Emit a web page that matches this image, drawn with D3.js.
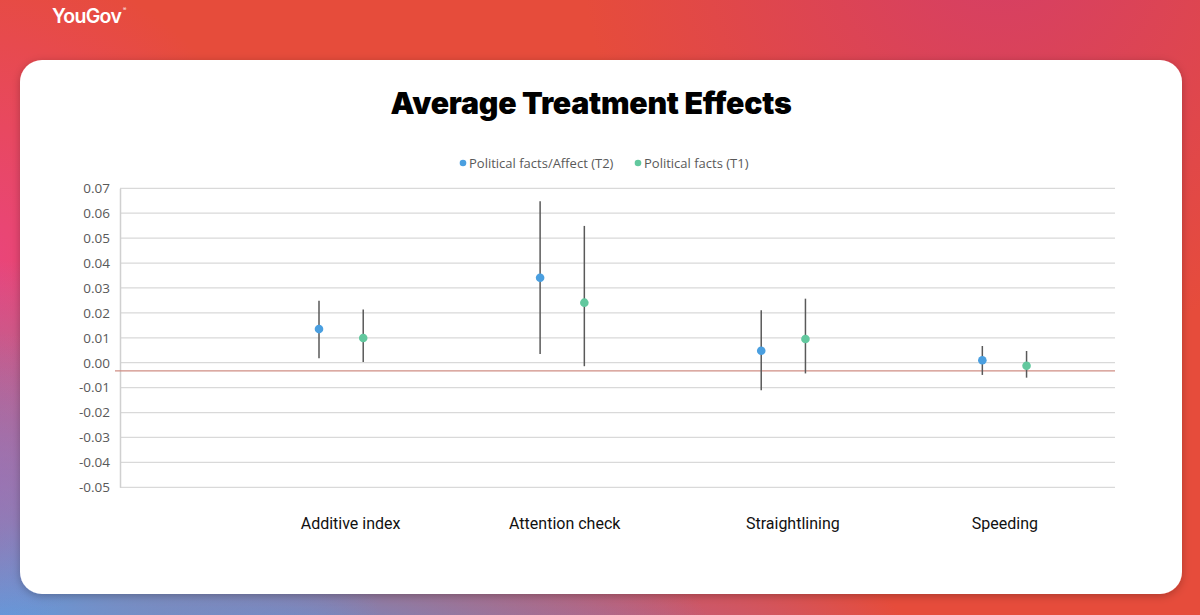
<!DOCTYPE html>
<html><head><meta charset="utf-8">
<script src="https://cdn.jsdelivr.net/npm/d3@7"></script>
<style>html,body{margin:0;padding:0;overflow:hidden;background:#fff}</style>
</head><body>
<svg id="c" width="1200" height="615"></svg>
<script>
// ---- data ----
const categories = ["Additive index", "Attention check", "Straightlining", "Speeding"];
const seriesNames = ["Political facts/Affect (T2)", "Political facts (T1)"];
const t2Values = [0.0135, 0.0341, 0.0048, 0.0010];
const t2Upper  = [0.0249, 0.0648, 0.0211, 0.0067];
const t2Lower  = [0.0018, 0.0035, -0.0110, -0.0049];
const t1Values = [0.0099, 0.0241, 0.0095, -0.0012];
const t1Upper  = [0.0214, 0.0549, 0.0257, 0.0047];
const t1Lower  = [0.0003, -0.0014, -0.0043, -0.0060];
const yTicks = [0.07, 0.06, 0.05, 0.04, 0.03, 0.02, 0.01, 0.00, -0.01, -0.02, -0.03, -0.04, -0.05];
const referenceLine = -0.0033;

const svg = d3.select("#c");
const defs = svg.append("defs");

// ---- background gradient ----
svg.append("rect").attr("width",1200).attr("height",615).attr("fill","#e64c3b");
function radial(id, cx, cy, r, color, op, sy){
  const g = defs.append("radialGradient").attr("id",id).attr("gradientUnits","userSpaceOnUse")
    .attr("cx",cx).attr("cy",cy).attr("r",r);
  if (sy) g.attr("gradientTransform",`translate(0,${cy}) scale(1,${sy}) translate(0,${-cy})`);
  g.append("stop").attr("offset","0").attr("stop-color",color).attr("stop-opacity",op);
  g.append("stop").attr("offset","1").attr("stop-color",color).attr("stop-opacity",0);
  svg.append("rect").attr("width",1200).attr("height",615).attr("fill",`url(#${id})`);
}
radial("g1", 1000, -60, 420, "#d23c6e", 0.85);
radial("g2", -40, 280, 330, "#ea4486", 0.95);
radial("g5", 640, 700, 300, "#a46ab0", 0.85, 0.6);
radial("g4", 300, 660, 420, "#5f95de", 1, 0.45);
radial("g3", 0, 640, 380, "#5e9de2", 1);
radial("g6", -20, 480, 150, "#9c6fbc", 0.6);

// logo
svg.append("text").attr("x",52).attr("y",23)
  .attr("font-family","Inter, 'Open Sans', sans-serif").attr("font-weight",600)
  .attr("font-size",19.5).attr("fill","#fff").attr("letter-spacing","-0.7")
  .text("YouGov");
svg.append("text").attr("x",123).attr("y",11).attr("font-size",5).attr("fill","#fff")
  .attr("font-family","Inter, sans-serif").text("®");

// card shadow + card
const sh = defs.append("filter").attr("id","sh").attr("x","-5%").attr("y","-5%").attr("width","110%").attr("height","115%");
sh.append("feDropShadow").attr("dx",0).attr("dy",2).attr("stdDeviation",4).attr("flood-color","#000").attr("flood-opacity",0.25);
svg.append("rect").attr("x",20).attr("y",60).attr("width",1162).attr("height",534)
  .attr("rx",22).attr("fill","#fff").attr("filter","url(#sh)");

// title
svg.append("text").attr("x",591).attr("y",114).attr("text-anchor","middle")
  .attr("font-family","Inter, 'Open Sans', sans-serif").attr("font-weight",900)
  .attr("font-size",30.3).attr("fill","#000").attr("letter-spacing","-0.25")
  .text("Average Treatment Effects");

// ---- scales ----
const x = d3.scaleLinear().domain([0, 4.5]).range([120, 1115]);
const y = d3.scaleLinear().domain([-0.05, 0.07]).range([487.3, 188.3]);
const offset = 0.1;

const g = svg.append("g");
// gridlines
g.selectAll("line.grid").data(yTicks).join("line").attr("class","grid")
  .attr("x1",120).attr("x2",1115).attr("y1",d=>y(d)).attr("y2",d=>y(d))
  .attr("stroke","#d9d9d9").attr("stroke-width",1.2);
// y axis
const yAxis = d3.axisLeft(y).tickValues(yTicks).tickFormat(d3.format(".2f")).tickSize(0).tickPadding(10);
const ya = g.append("g").attr("transform","translate(120,0)").call(yAxis);
ya.select(".domain").attr("stroke","#d0d0d0").attr("stroke-width",1.5);
ya.selectAll("text").attr("font-family","'Open Sans', 'Noto Sans', sans-serif").attr("font-size",13.5)
  .attr("fill","#595959").text(d => d3.format(".2f")(d).replace("−","-"));

// reference line
g.append("line").attr("x1",115).attr("x2",1115).attr("y1",y(referenceLine)).attr("y2",y(referenceLine))
  .attr("stroke","#cf8e84").attr("stroke-width",1.2);

// category labels
const xAxis = d3.axisBottom(x).tickValues(categories.map((c,i)=>i+1)).tickFormat((d)=>categories[d-1]).tickSize(0).tickPadding(0);
const xa = g.append("g").attr("transform","translate(0,518)").call(xAxis);
xa.select(".domain").remove();
xa.selectAll("text").attr("font-family","Roboto, 'Open Sans', sans-serif").attr("font-size",16)
  .attr("fill","#111").attr("dx",(d,i)=>[9,2,9,0][i]);

// series
const series = [
  {name: seriesNames[0], vals: t2Values, up: t2Upper, lo: t2Lower, color: "#4a9fe0", dx: -offset},
  {name: seriesNames[1], vals: t1Values, up: t1Upper, lo: t1Lower, color: "#62c89e", dx: offset}
];
series.forEach(s => {
  const data = categories.map((c,i)=>({i, v:s.vals[i], u:s.up[i], l:s.lo[i]}));
  g.selectAll(null).data(data).join("line")
    .attr("x1",d=>x(d.i+1+s.dx)).attr("x2",d=>x(d.i+1+s.dx))
    .attr("y1",d=>y(d.u)).attr("y2",d=>y(d.l))
    .attr("stroke","#595959").attr("stroke-width",1.5);
  g.selectAll(null).data(data).join("circle")
    .attr("cx",d=>x(d.i+1+s.dx)).attr("cy",d=>y(d.v)).attr("r",4.3)
    .attr("fill",s.color);
});

// legend
const legend = svg.append("g").attr("font-family","'Open Sans', 'Noto Sans', sans-serif").attr("font-size",13).attr("fill","#595959");
const legX = [463, 638];
series.forEach((s,i)=>{
  legend.append("circle").attr("cx",legX[i]).attr("cy",163).attr("r",3.3).attr("fill",s.color);
  legend.append("text").attr("x",legX[i]+6).attr("y",167.5).text(s.name);
});
</script>
</body></html>
